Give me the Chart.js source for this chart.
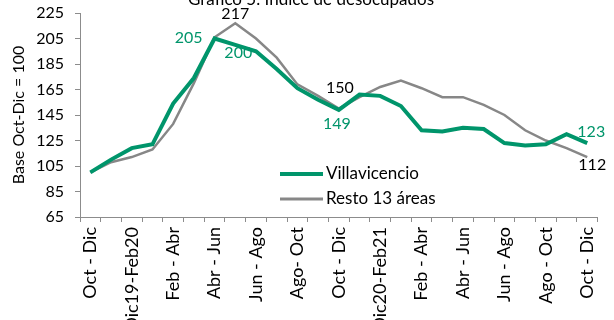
<!DOCTYPE html>
<html>
<head>
<meta charset="utf-8">
<script src="https://cdn.jsdelivr.net/npm/chart.js@4"></script>
<style>
    html, body { margin: 0; padding: 0; background: #fff; }
    #wrap { width: 614px; height: 320px; position: relative; }
</style>
</head>
<body>
<div id="wrap"><canvas id="grafico"></canvas></div>
<script>
// trimestres moviles oct-dic 2019 a oct-dic 2021
var periodos = [
    'Oct - Dic', 'Nov - Ene', 'Dic19-Feb20', 'Ene - Mar', 'Feb - Abr', 'Mar - May',
    'Abr - Jun', 'May - Jul', 'Jun - Ago', 'Jul - Sep', 'Ago- Oct', 'Sep - Nov',
    'Oct - Dic', 'Nov - Ene', 'Dic20-Feb21', 'Ene - Mar', 'Feb - Abr', 'Mar - May',
    'Abr - Jun', 'May - Jul', 'Jun - Ago', 'Jul - Sep', 'Ago - Oct', 'Sep - Nov',
    'Oct - Dic'
];
var villavicencio = [100, 110, 119, 122, 154, 174, 205, 200, 195, 181, 166, 157, 149,
    161, 160, 152, 133, 132, 135, 134, 123, 121, 122, 130, 123];
var resto13 = [100, 108, 112, 118, 138, 170, 206, 217, 205, 190, 169, 160, 150,
    159, 167, 172, 166, 159, 159, 153, 145, 133, 125, 119, 112];
var ticksY = [65, 85, 105, 125, 145, 165, 185, 205, 225];

// etiquetas de valor: [serie, indice, dx, dy]
var etiquetas = [
    [0, 6, -26, -1], [0, 7, 3, 8], [0, 12, -2, 14], [0, 24, 4, -11],
    [1, 7, 0, -9], [1, 12, 1, -21], [1, 24, 5, 8]
];

var VERDE = '#00956b';
var GRIS = '#878787';
var fuente = 'Lato, "Open Sans", sans-serif';

var pluginExtras = {
    id: 'extras',
    afterDatasetsDraw: function (chart) {
        var ctx = chart.ctx;
        ctx.save();
        // titulo (queda cortado arriba)
        ctx.fillStyle = '#000';
        ctx.font = '17px ' + fuente;
        ctx.textAlign = 'center';
        ctx.textBaseline = 'alphabetic';
        ctx.fillText('Gráfico 5. Índice de desocupados', 311, 5);

        // valores
        ctx.font = '16px ' + fuente;
        ctx.textBaseline = 'middle';
        etiquetas.forEach(function (e) {
            var meta = chart.getDatasetMeta(e[0]);
            var p = meta.data[e[1]];
            var v = chart.data.datasets[e[0]].data[e[1]];
            ctx.fillStyle = e[0] == 0 ? VERDE : '#000';
            ctx.fillText(String(v), p.x + e[2], p.y + e[3]);
        });

        // leyenda dentro del area
        var items = [
            { txt: 'Villavicencio', color: VERDE, ancho: 4, y: 174 },
            { txt: 'Resto 13 áreas', color: GRIS, ancho: 3, y: 199 }
        ];
        ctx.font = '17px ' + fuente;
        ctx.textAlign = 'left';
        items.forEach(function (it) {
            ctx.strokeStyle = it.color;
            ctx.lineWidth = it.ancho;
            ctx.beginPath();
            ctx.moveTo(280, it.y);
            ctx.lineTo(323, it.y);
            ctx.stroke();
            ctx.fillStyle = '#000';
            ctx.fillText(it.txt, 326, it.y);
        });
        ctx.restore();
    }
};

var config = {
    type: 'line',
    data: {
        labels: periodos,
        datasets: [{
            label: 'Villavicencio',
            data: villavicencio,
            borderColor: VERDE,
            backgroundColor: VERDE,
            borderWidth: 4,
            pointRadius: 0,
            tension: 0
        }, {
            label: 'Resto 13 áreas',
            data: resto13,
            borderColor: GRIS,
            backgroundColor: GRIS,
            borderWidth: 2.5,
            pointRadius: 0,
            tension: 0
        }]
    },
    options: {
        responsive: false,
        animation: false,
        devicePixelRatio: 1,
        layout: { padding: { top: 13, right: 8, left: 0, bottom: 0 } },
        plugins: {
            legend: { display: false },
            tooltip: { enabled: false }
        },
        scales: {
            x: {
                type: 'category',
                offset: true,
                afterFit: function (s) { s.height = 103; },
                border: { color: '#8c8c8c', width: 1 },
                grid: { offset: true, drawOnChartArea: false, drawTicks: true, tickLength: 5, color: '#8c8c8c' },
                ticks: {
                    autoSkip: false,
                    maxRotation: 90,
                    minRotation: 90,
                    padding: 5,
                    color: '#000',
                    font: { family: fuente, size: 18 },
                    callback: function (val, i) { return i % 2 == 0 ? periodos[i] : ''; }
                }
            },
            y: {
                min: 65,
                max: 225,
                afterFit: function (s) {
                    s.width = 80;
                    s.paddingTop = 0;
                    s.paddingBottom = 0;
                },
                afterBuildTicks: function (s) { s.ticks = ticksY.map(function (v) { return { value: v }; }); },
                border: { color: '#8c8c8c', width: 1 },
                grid: { drawOnChartArea: false, drawTicks: true, tickLength: 5, color: '#8c8c8c' },
                ticks: {
                    padding: 11,
                    color: '#000',
                    font: { family: fuente, size: 16 }
                },
                title: {
                    display: true,
                    text: 'Base Oct-Dic = 100',
                    color: '#000',
                    font: { family: fuente, size: 16 },
                    padding: { top: 9, bottom: 0 }
                }
            }
        }
    },
    plugins: [pluginExtras]
};

var canvas = document.getElementById('grafico');
canvas.width = 614;
canvas.height = 320;
var grafico = new Chart(canvas, config);
</script>
</body>
</html>
